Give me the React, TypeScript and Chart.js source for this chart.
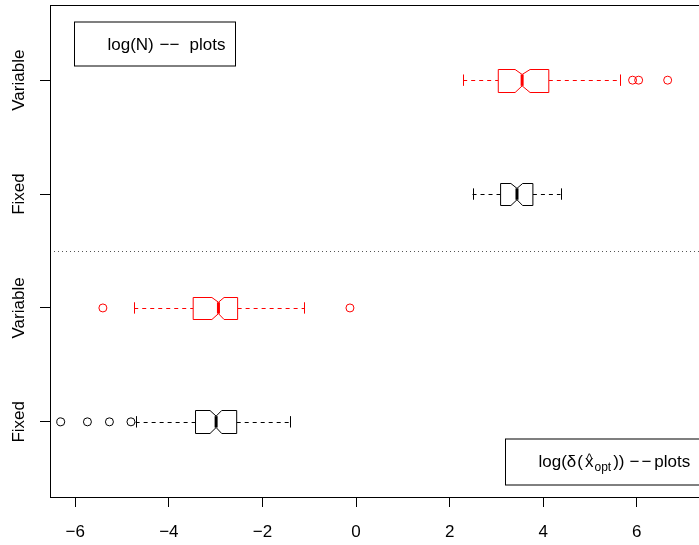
import React, { useEffect, useRef } from "react";
import { Chart, registerables } from "chart.js";

Chart.register(...registerables);

// Groups, bottom (position 1) to top (position 4)
const groupLabels = ["Fixed", "Variable", "Fixed", "Variable"];
const groupColors = ["#000000", "#FF0000", "#000000", "#FF0000"];
const whiskerLow = [-4.71, -4.74, 2.49, 2.29];
const lowerQuartile = [-3.43, -3.48, 3.09, 3.04];
const medians = [-2.99, -2.94, 3.44, 3.55];
const upperQuartile = [-2.55, -2.53, 3.78, 4.12];
const whiskerHigh = [-1.41, -1.11, 4.37, 5.65];
const notchLow = [-3.12, -3.08, 3.31, 3.4];
const notchHigh = [-2.87, -2.82, 3.56, 3.72];
const outliers = [
  [-6.31, -5.74, -5.27, -4.81],
  [-5.41, -0.13],
  [],
  [5.91, 6.04, 6.66],
];
const xTicks = [-6, -4, -2, 0, 2, 4, 6];
const yPositions = [1, 2, 3, 4];
const separatorAt = 2.5;
const legendTopText = ["log(N)", "\u2212\u2212", "plots"];

const FONT = "'Liberation Sans', Arial, Helvetica, sans-serif";
const BOX_HALF = 0.1;

const fmt = (v: number) => (v < 0 ? "\u2212" + Math.abs(v) : String(v));

const boxPlugin = {
  id: "boxes",
  beforeDatasetsDraw(chart: any) {
    const { ctx, chartArea: ca, scales } = chart;
    const x = scales.x;
    const y = scales.y;
    ctx.save();
    ctx.beginPath();
    ctx.rect(ca.left, ca.top, ca.right - ca.left, ca.bottom - ca.top);
    ctx.clip();

    // separator dotted line
    const ys = Math.round(y.getPixelForValue(separatorAt)) + 0.5;
    ctx.strokeStyle = "#555";
    ctx.lineWidth = 1;
    ctx.setLineDash([1, 3]);
    ctx.beginPath();
    ctx.moveTo(ca.left, ys);
    ctx.lineTo(ca.right, ys);
    ctx.stroke();

    for (let i = 0; i < yPositions.length; i++) {
      const pos = yPositions[i];
      const col = groupColors[i];
      const yc = Math.round(y.getPixelForValue(pos)) + 0.5;
      const yt = Math.round(y.getPixelForValue(pos + BOX_HALF)) + 0.5;
      const yb = Math.round(y.getPixelForValue(pos - BOX_HALF)) + 0.5;
      const ytn = y.getPixelForValue(pos + BOX_HALF / 2);
      const ybn = y.getPixelForValue(pos - BOX_HALF / 2);
      const xl = x.getPixelForValue(whiskerLow[i]);
      const xq1 = x.getPixelForValue(lowerQuartile[i]);
      const xm = x.getPixelForValue(medians[i]);
      const xq3 = x.getPixelForValue(upperQuartile[i]);
      const xh = x.getPixelForValue(whiskerHigh[i]);
      const xnl = x.getPixelForValue(notchLow[i]);
      const xnh = x.getPixelForValue(notchHigh[i]);
      ctx.strokeStyle = col;
      ctx.lineWidth = 1;

      // whiskers
      ctx.setLineDash([4, 4]);
      ctx.beginPath();
      ctx.moveTo(xl, yc);
      ctx.lineTo(xq1, yc);
      ctx.moveTo(xq3, yc);
      ctx.lineTo(xh, yc);
      ctx.stroke();
      ctx.setLineDash([]);

      // staples
      const st = y.getPixelForValue(pos + BOX_HALF / 2);
      const sb = y.getPixelForValue(pos - BOX_HALF / 2);
      ctx.beginPath();
      ctx.moveTo(Math.round(xl) + 0.5, st);
      ctx.lineTo(Math.round(xl) + 0.5, sb);
      ctx.moveTo(Math.round(xh) + 0.5, st);
      ctx.lineTo(Math.round(xh) + 0.5, sb);
      ctx.stroke();

      // notched box
      ctx.fillStyle = "#ffffff";
      ctx.beginPath();
      ctx.moveTo(xq1, yt);
      ctx.lineTo(xnl, yt);
      ctx.lineTo(xm, ytn);
      ctx.lineTo(xnh, yt);
      ctx.lineTo(xq3, yt);
      ctx.lineTo(xq3, yb);
      ctx.lineTo(xnh, yb);
      ctx.lineTo(xm, ybn);
      ctx.lineTo(xnl, yb);
      ctx.lineTo(xq1, yb);
      ctx.closePath();
      ctx.fill();
      ctx.stroke();

      // median
      ctx.lineWidth = 3;
      ctx.beginPath();
      ctx.moveTo(xm, ytn);
      ctx.lineTo(xm, ybn);
      ctx.stroke();
    }
    ctx.restore();
  },
  afterDraw(chart: any) {
    const { ctx, chartArea: ca, scales } = chart;
    const y = scales.y;
    ctx.save();
    // frame
    ctx.strokeStyle = "#000";
    ctx.lineWidth = 1;
    ctx.setLineDash([]);
    const l = Math.round(ca.left) + 0.5;
    const t = Math.round(ca.top) + 0.5;
    const r = Math.round(ca.right) + 0.5;
    const b = Math.round(ca.bottom) + 0.5;
    ctx.strokeRect(l, t, r - l, b - t);

    // y labels (rotated)
    ctx.fillStyle = "#000";
    ctx.font = `17px ${FONT}`;
    ctx.textAlign = "center";
    ctx.textBaseline = "middle";
    for (let i = 0; i < yPositions.length; i++) {
      ctx.save();
      ctx.translate(ca.left - 31, y.getPixelForValue(yPositions[i]));
      ctx.rotate(-Math.PI / 2);
      ctx.fillText(groupLabels[i], 0, 0);
      ctx.restore();
    }

    // legend 1 (top-left)
    const lx = ca.left + 24.5;
    const ly = ca.top + 17;
    ctx.fillStyle = "#fff";
    ctx.fillRect(lx, ly, 161, 44);
    ctx.strokeRect(lx, ly, 161, 44);
    ctx.fillStyle = "#000";
    ctx.textAlign = "left";
    ctx.textBaseline = "alphabetic";
    ctx.font = `17px ${FONT}`;
    const base1 = ly + 27.5;
    ctx.fillText(legendTopText[0], lx + 33, base1);
    ctx.fillText(legendTopText[1], lx + 85, base1);
    ctx.fillText(legendTopText[2], lx + 115, base1);

    // legend 2 (bottom-right)
    const bx = 505.5;
    const by = ca.bottom - 58;
    ctx.fillStyle = "#fff";
    ctx.fillRect(bx, by, ca.right - 8 - bx, 46);
    ctx.strokeRect(bx, by, ca.right - 8 - bx, 46);
    ctx.fillStyle = "#000";
    let tx = bx + 33;
    const base2 = by + 28;
    const F17 = `17px ${FONT}`;
    const F12 = `12px ${FONT}`;
    const seg = (s: string, f: string, dy = 0) => {
      ctx.font = f;
      ctx.fillText(s, tx, base2 + dy);
      const w = ctx.measureText(s).width;
      tx += w;
      return w;
    };
    seg("log(", F17);
    seg("\u03B4", F17);
    tx += 1;
    seg("(", F17);
    tx += 2;
    const xs = tx;
    const wx = seg("x", F17);
    ctx.font = F12;
    ctx.textAlign = "center";
    ctx.fillText("^", xs + wx / 2, base2 - 5);
    ctx.textAlign = "left";
    tx += 1;
    seg("opt", F12, 4);
    tx += 2;
    seg("))", F17);
    tx += 5;
    seg("\u2212", F17);
    tx += 2;
    seg("\u2212", F17);
    tx += 3;
    seg("plots", F17);
    ctx.restore();
  },
};

export default function App() {
  const ref = useRef<HTMLCanvasElement | null>(null);
  useEffect(() => {
    if (!ref.current) return;
    const datasets = outliers.map((vals, i) => ({
      label: groupLabels[i],
      data: vals.map((v) => ({ x: v, y: yPositions[i] })),
      pointRadius: 4,
      pointHoverRadius: 4,
      pointBorderWidth: 1,
      pointBackgroundColor: "rgba(0,0,0,0)",
      pointBorderColor: groupColors[i],
      borderColor: groupColors[i],
      backgroundColor: "rgba(0,0,0,0)",
    }));
    const chart = new Chart(ref.current, {
      type: "scatter",
      data: { datasets },
      plugins: [boxPlugin],
      options: {
        animation: false,
        responsive: false,
        devicePixelRatio: 1,
        layout: { padding: { top: 5, right: 19, left: 0, bottom: 0 } },
        plugins: { legend: { display: false }, tooltip: { enabled: false } },
        scales: {
          x: {
            type: "linear",
            position: "bottom",
            min: -6.54,
            max: 7.8,
            afterBuildTicks: (s: any) => {
              s.ticks = xTicks.map((v) => ({ value: v }));
            },
            afterFit: (s: any) => {
              s.height = 48;
            },
            grid: {
              drawOnChartArea: false,
              drawTicks: true,
              tickLength: 10,
              tickColor: "#000",
              tickWidth: 1,
            },
            border: { display: false },
            ticks: {
              color: "#000",
              font: { family: FONT, size: 17 },
              padding: 15,
              autoSkip: false,
              maxRotation: 0,
              callback: (v: any) => fmt(Number(v)),
            },
          },
          y: {
            type: "linear",
            position: "left",
            min: 0.34,
            max: 4.66,
            afterBuildTicks: (s: any) => {
              s.ticks = yPositions.map((v) => ({ value: v }));
            },
            afterFit: (s: any) => {
              s.width = 50;
            },
            grid: {
              drawOnChartArea: false,
              drawTicks: true,
              tickLength: 10,
              tickColor: "#000",
              tickWidth: 1,
            },
            border: { display: false },
            ticks: { display: false },
          },
        },
      },
    } as any);
    return () => chart.destroy();
  }, []);
  return (
    <div
      style={{
        position: "fixed",
        left: 0,
        top: 0,
        width: 699,
        height: 545,
        overflow: "hidden",
        background: "#fff",
      }}
    >
      <canvas ref={ref} width={740} height={545} style={{ display: "block" }} />
    </div>
  );
}
